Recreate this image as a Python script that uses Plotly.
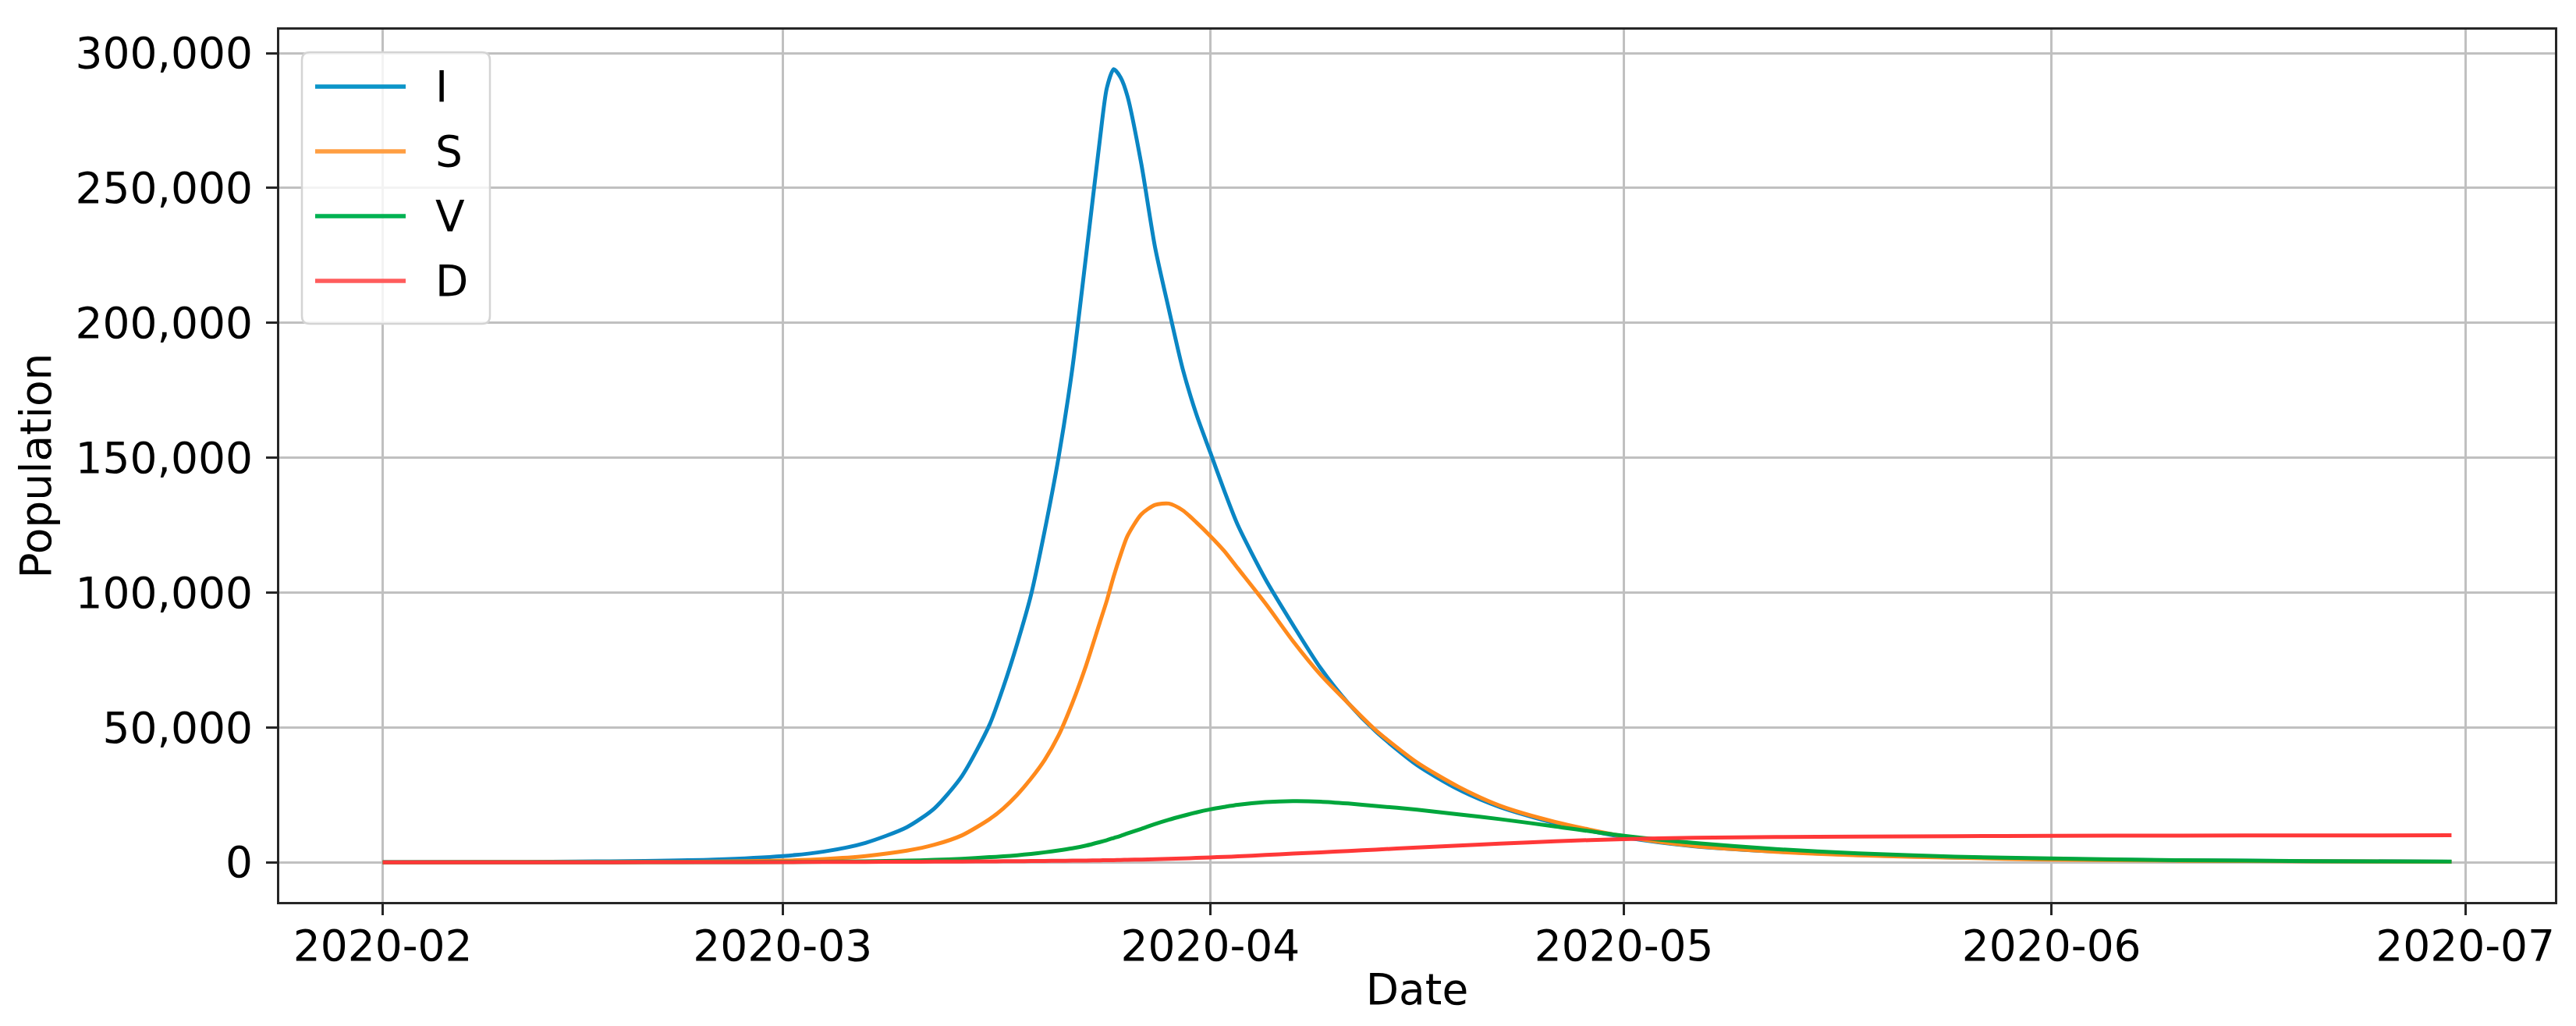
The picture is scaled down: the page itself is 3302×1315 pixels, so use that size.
import plotly.graph_objects as go

# Sampled dates (x values)
dates = [
    "2020-02-01", "2020-02-08", "2020-02-15", "2020-02-20", "2020-02-25",
    "2020-03-01", "2020-03-04", "2020-03-07", "2020-03-10", "2020-03-12",
    "2020-03-14", "2020-03-16", "2020-03-17", "2020-03-18", "2020-03-19",
    "2020-03-20", "2020-03-21", "2020-03-22", "2020-03-23", "2020-03-24",
    "2020-03-24 12:00", "2020-03-25", "2020-03-25 12:00", "2020-03-26", "2020-03-27",
    "2020-03-28", "2020-03-29", "2020-03-30", "2020-03-31", "2020-04-01",
    "2020-04-02", "2020-04-03", "2020-04-05", "2020-04-07", "2020-04-09",
    "2020-04-11", "2020-04-13", "2020-04-16", "2020-04-19", "2020-04-22",
    "2020-04-26", "2020-05-01", "2020-05-06", "2020-05-12", "2020-05-18",
    "2020-05-25", "2020-06-01", "2020-06-10", "2020-06-20", "2020-06-30",
]

infected = [
    50, 100, 250, 500, 1000,
    2300, 4000, 7200, 13000, 20000,
    32000, 51000, 65000, 81000, 99000,
    123000, 150000, 183000, 225000, 268000,
    287000, 294000, 291000, 284000, 259000,
    228000, 205000, 183000, 166000, 152000,
    138000, 125000, 105000, 88000, 72000,
    59000, 48500, 36000, 27000, 20500,
    14500, 9300, 6000, 4000, 2700,
    1800, 1200, 700, 400, 200,
]

susceptible = [
    0, 20, 50, 100, 250,
    600, 1200, 2300, 4300, 6500,
    10000, 16000, 20000, 25000, 31000,
    38000, 47000, 59000, 73000, 89000,
    97000, 106000, 114000, 121000, 129000,
    132500, 133000, 130500, 126000, 121000,
    115500, 109000, 96000, 82000, 69500,
    59000, 49000, 37000, 28000, 21000,
    15000, 9600, 6100, 3900, 2600,
    1700, 1000, 600, 350, 200,
]

vaccinated = [
    0, 0, 10, 20, 40,
    100, 200, 350, 600, 900,
    1300, 1900, 2200, 2600, 3100,
    3700, 4400, 5200, 6200, 7500,
    8200, 9000, 9800, 10700, 12400,
    14200, 15800, 17200, 18500, 19600,
    20500, 21300, 22300, 22700, 22500,
    21800, 20900, 19500, 17800, 16000,
    13300, 9800, 7200, 4900, 3300,
    2100, 1400, 800, 450, 250,
]

deaths = [
    0, 0, 10, 20, 40,
    80, 110, 150, 200, 240,
    290, 350, 380, 420, 460,
    500, 550, 600, 660, 730,
    770, 810, 860, 910, 1020,
    1150, 1300, 1450, 1620, 1800,
    2000, 2200, 2700, 3200, 3700,
    4200, 4700, 5500, 6200, 6900,
    7800, 8600, 9100, 9400, 9550,
    9700, 9800, 9900, 9950, 10000,
]

series_names = ["I", "S", "V", "D"]
series_colors = ["#0a86c4", "#ff8a1c", "#00a63c", "#ff3838"]
legend_colors = ["#0b95c9", "#ff9e42", "#00b252", "#ff5c5c"]
month_ticks = ["2020-02-01", "2020-03-01", "2020-04-01", "2020-05-01", "2020-06-01", "2020-07-01"]
y_ticks = [0, 50000, 100000, 150000, 200000, 250000, 300000]

W, H = 3302, 1315
ML, MR, MT, MB = 350, 35, 30, 167
PW, PH = W - ML - MR, H - MT - MB
FS = 55


def px_x(p):
    # pixel -> paper x
    return (p - ML) / PW


def px_y(p):
    # pixel -> paper y
    return (H - MB - p) / PH


fig = go.Figure()
for name, vals, col in zip(series_names, [infected, susceptible, vaccinated, deaths], series_colors):
    fig.add_trace(go.Scatter(x=dates, y=vals, mode="lines", name=name, showlegend=False,
                             line=dict(color=col, width=5, shape="spline", smoothing=0.7)))

axis_style = dict(
    showline=True, linecolor="#262626", linewidth=3, mirror=True,
    ticks="outside", ticklen=14, tickwidth=3, tickcolor="#262626",
    showgrid=True, gridcolor="#c0c0c0", gridwidth=2.5,
    zeroline=False, tickfont=dict(size=FS, color="black"),
)

fig.update_xaxes(
    **axis_style,
    tickvals=month_ticks, tickformat="%Y-%m", ticklabelstandoff=-8,
    range=["2020-01-24 12:00", "2020-07-07 12:00"],
    title=dict(text="Date", font=dict(size=FS, color="black"), standoff=6),
)
fig.update_yaxes(
    **axis_style,
    tickvals=y_ticks, tickformat=",", ticklabelstandoff=6,
    range=[-14700, 308700],
    title=dict(text="Population", font=dict(size=FS, color="black"), standoff=14),
)

# legend box drawn by hand, matplotlib-style (long line handles)
box_l, box_r, box_t, box_b = 379, 620, 59, 407
r = 10
rx, ry = r / PW, r / PH
x0, x1, y0, y1 = px_x(box_l), px_x(box_r), px_y(box_b), px_y(box_t)
path = (f"M {x0 + rx},{y1} L {x1 - rx},{y1} Q {x1},{y1} {x1},{y1 - ry} "
        f"L {x1},{y0 + ry} Q {x1},{y0} {x1 - rx},{y0} L {x0 + rx},{y0} "
        f"Q {x0},{y0} {x0},{y0 + ry} L {x0},{y1 - ry} Q {x0},{y1} {x0 + rx},{y1} Z")
shapes = [dict(type="path", xref="paper", yref="paper", path=path,
               fillcolor="rgba(255,255,255,0.8)", line=dict(color="#d4d4d4", width=2.5))]
annotations = []
first_row, row_gap = 103, 83
for i, (name, col) in enumerate(zip(series_names, legend_colors)):
    yy = px_y(first_row + i * row_gap)
    shapes.append(dict(type="line", xref="paper", yref="paper",
                       x0=px_x(396), x1=px_x(512), y0=yy, y1=yy,
                       line=dict(color=col, width=5.5)))
    annotations.append(dict(xref="paper", yref="paper", x=px_x(548), y=yy,
                            xanchor="left", yanchor="middle", showarrow=False,
                            text=name, font=dict(size=FS, color="black")))

fig.update_layout(
    width=W, height=H,
    margin=dict(l=ML, r=MR, t=MT, b=MB),
    paper_bgcolor="white", plot_bgcolor="white",
    font=dict(family="DejaVu Sans", size=FS, color="black"),
    shapes=shapes, annotations=annotations,
    showlegend=False,
)

fig.write_html("out.html")
